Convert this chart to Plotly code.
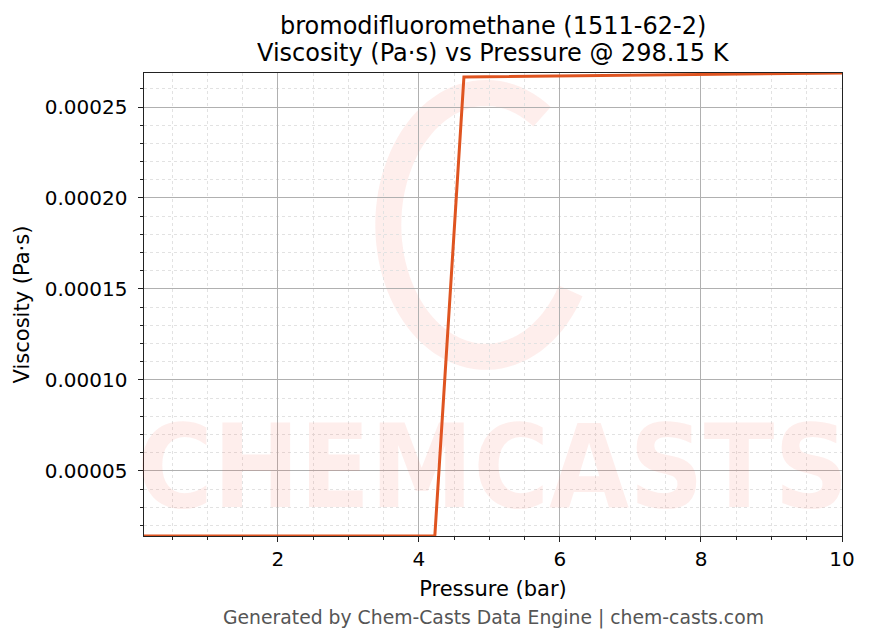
import numpy as np
import plotly.graph_objects as go

# pressure (bar) and viscosity (Pa·s)
pressure_bar = [0.1, 0.5125, 0.925, 1.3375, 1.75, 2.1625, 2.575, 2.9875, 3.4, 3.8125,
                4.225, 4.6375, 5.05, 5.4625, 5.875, 6.2875, 6.7, 7.1125, 7.525, 7.9375,
                8.35, 8.7625, 9.175, 9.5875, 10.0]
viscosity_pas = [1.420e-5, 1.420e-5, 1.420e-5, 1.421e-5, 1.421e-5, 1.421e-5, 1.422e-5,
                 1.422e-5, 1.423e-5, 1.423e-5, 1.424e-5,
                 2.6650e-4, 2.6667e-4, 2.6684e-4, 2.6701e-4, 2.6718e-4, 2.6735e-4,
                 2.6752e-4, 2.6769e-4, 2.6786e-4, 2.6803e-4, 2.6820e-4, 2.6837e-4,
                 2.6854e-4, 2.6870e-4]

title_lines = ["bromodifluoromethane (1511-62-2)", "Viscosity (Pa·s) vs Pressure @ 298.15 K"]
footer = "Generated by Chem-Casts Data Engine | chem-casts.com"

FONT = "DejaVu Sans, Liberation Sans, sans-serif"
LINE_COLOR = "#df5420"
WM_COLOR = "rgba(245,90,70,0.10)"

fig = go.Figure()

fig.add_trace(go.Scatter(
    x=pressure_bar, y=viscosity_pas, mode="lines",
    line=dict(color=LINE_COLOR, width=3), showlegend=False
))

# watermark logo: open "C" swirl drawn as a thick arc (paper coords)
cx, cy, rx, ry = 0.49, 0.672, 0.140, 0.285
ang = np.linspace(np.deg2rad(55), np.deg2rad(330), 80)
pts = [(cx + rx * np.cos(a), cy + ry * np.sin(a)) for a in ang]
path = "M " + " L ".join(f"{px:.4f},{py:.4f}" for px, py in pts)
fig.add_shape(type="path", path=path, xref="paper", yref="paper",
              line=dict(color=WM_COLOR, width=26), layer="below")

annotations = [
    dict(text="<b>CHEMCASTS</b>", xref="paper", yref="paper", x=0.5, y=0.0,
         xanchor="center", yanchor="bottom", showarrow=False,
         font=dict(family="DejaVu Sans Condensed, DejaVu Sans", size=115, color=WM_COLOR)),
    dict(text=title_lines[0], xref="paper", yref="paper", x=0.5, y=1.1015,
         xanchor="center", yanchor="middle", showarrow=False, height=26,
         font=dict(size=24)),
    dict(text=title_lines[1], xref="paper", yref="paper", x=0.5, y=1.0432,
         xanchor="center", yanchor="middle", showarrow=False, height=26,
         font=dict(size=24)),
    dict(text=footer, xref="paper", yref="paper", x=0.5, y=-0.177,
         xanchor="center", yanchor="middle", showarrow=False,
         font=dict(size=18.8, color="#555555")),
]

# page body has an 8px margin, so the figure is trimmed by that much
fig.update_layout(
    width=861, height=636,
    paper_bgcolor="white", plot_bgcolor="white",
    margin=dict(l=136, r=27, t=65, b=108),
    font=dict(family=FONT, size=20, color="black"),
    annotations=annotations,
)

fig.update_xaxes(
    range=[0.1, 10], tick0=0, dtick=2, ticks="outside", ticklen=5, tickwidth=1.2,
    tickcolor="#222", showline=True, linecolor="#222", linewidth=1.3, mirror=True,
    showgrid=True, gridcolor="#b0b0b0", gridwidth=0.8, zeroline=False,
    title=dict(text="Pressure (bar)", standoff=11, font=dict(size=21)),
    minor=dict(dtick=0.5, ticks="outside", ticklen=3, tickcolor="#222",
               showgrid=True, gridcolor="#e2e2e2", griddash="dot", gridwidth=0.6),
)
fig.update_yaxes(
    range=[1.42e-5, 2.687e-4], tick0=0, dtick=5e-5, tickformat=".5f",
    ticksuffix="\u00a0", ticks="outside", ticklen=5, tickwidth=1.2, tickcolor="#222",
    showline=True, linecolor="#222", linewidth=1.3, mirror=True,
    showgrid=True, gridcolor="#b0b0b0", gridwidth=0.8, zeroline=False,
    title=dict(text="Viscosity (Pa·s)", standoff=9, font=dict(size=21)),
    minor=dict(dtick=1e-5, ticks="outside", ticklen=3, tickcolor="#222",
               showgrid=True, gridcolor="#e2e2e2", griddash="dot", gridwidth=0.6),
)

fig.write_html("out.html")
